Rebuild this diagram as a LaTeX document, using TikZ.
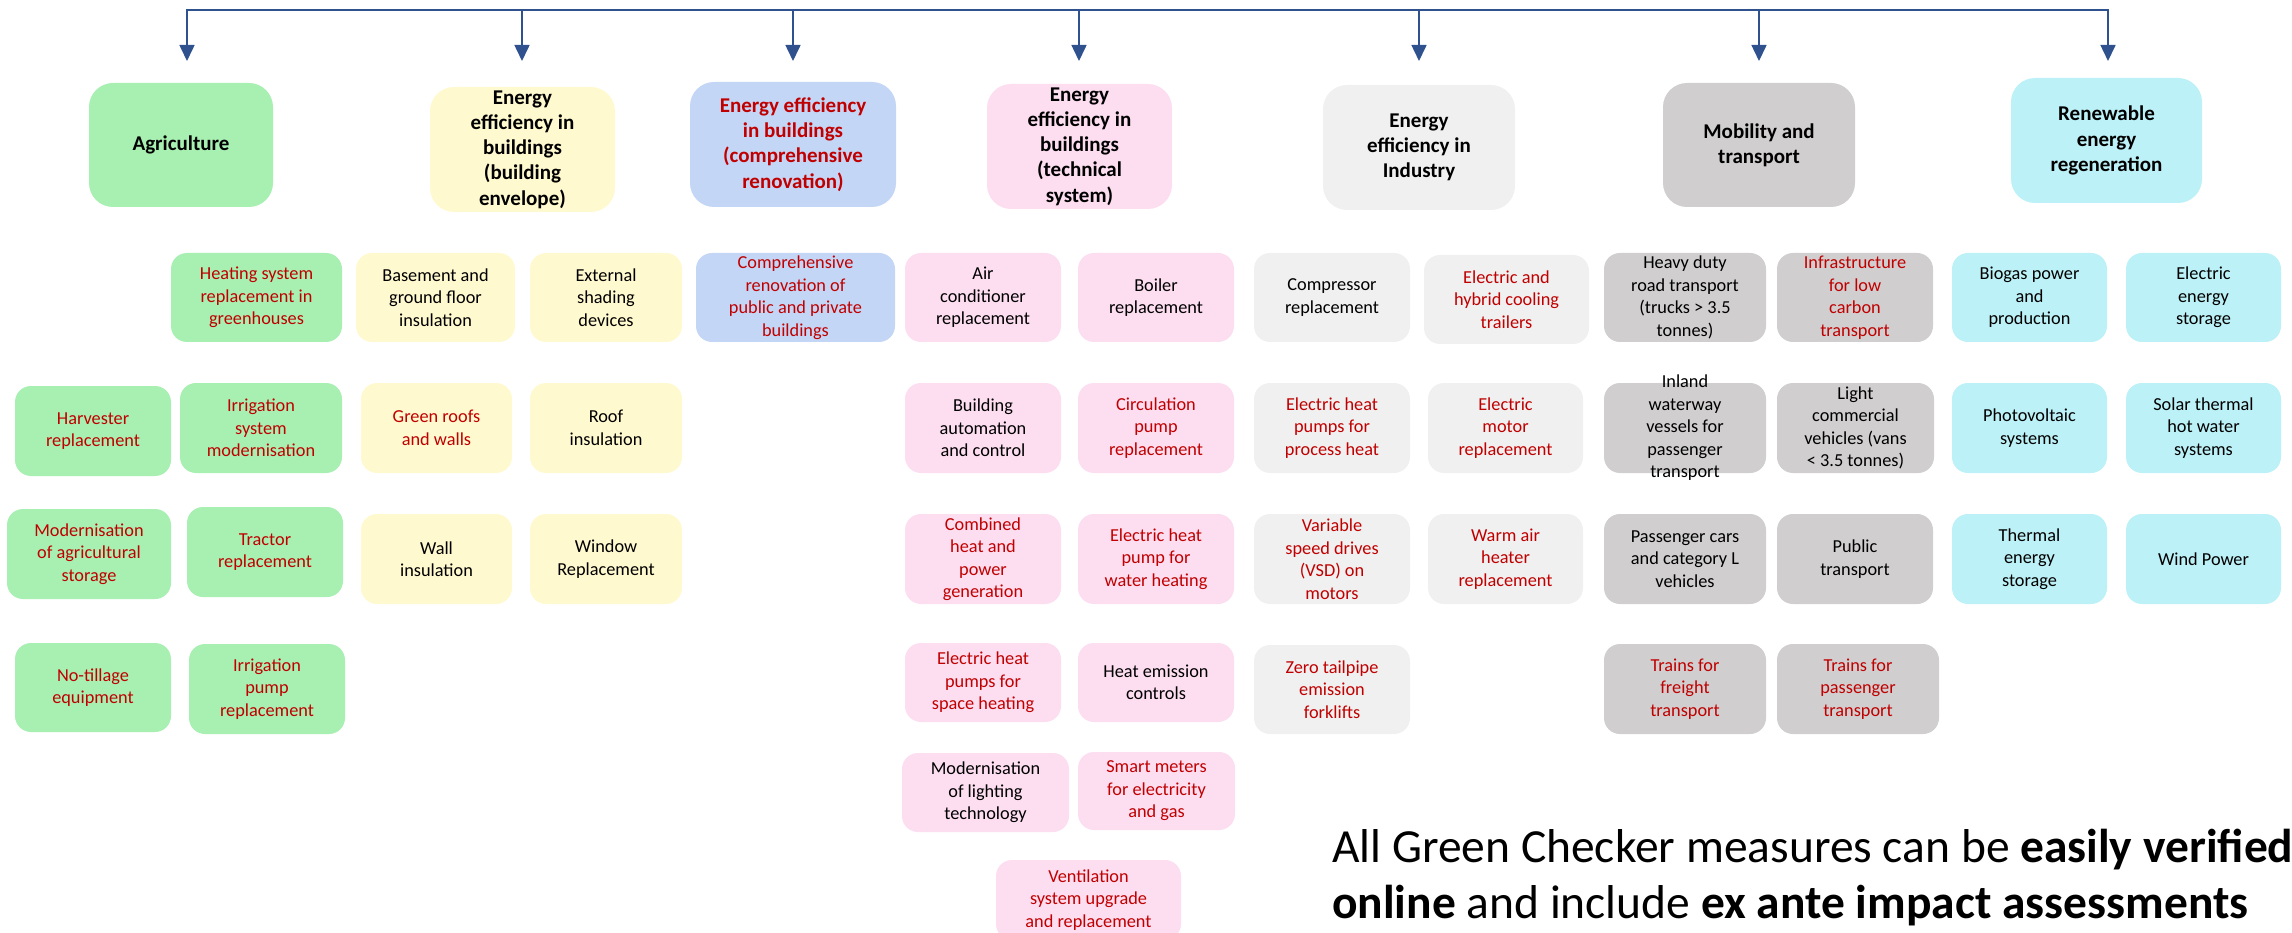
\documentclass[tikz,border=0pt]{standalone}
\usepackage{fontspec}
\setmainfont{Carlito}
\usetikzlibrary{arrows.meta}
\definecolor{cgreen}{RGB}{168,240,178}
\definecolor{cyellow}{RGB}{255,249,207}
\definecolor{cblueb}{RGB}{196,214,245}
\definecolor{cpink}{RGB}{253,222,241}
\definecolor{clgray}{RGB}{240,240,240}
\definecolor{cgray}{RGB}{208,206,206}
\definecolor{ccyan}{RGB}{188,241,247}
\definecolor{cred}{RGB}{192,0,0}
\definecolor{cline}{RGB}{47,82,143}
\tikzset{
  cell/.style={draw=none, rounded corners=16pt, inner sep=0pt, outer sep=0pt},
  hdr/.style={rounded corners=24pt},
  celltext/.style={inner sep=0pt, align=center, font=\fontsize{18.3}{22.5}\selectfont, text=black},
  hdrtext/.style={font=\fontsize{21}{25.3}\selectfont\bfseries},
  redtext/.style={text=cred},
  fgreen/.style={fill=cgreen},
  fyellow/.style={fill=cyellow},
  fblue/.style={fill=cblueb},
  fpink/.style={fill=cpink},
  flgray/.style={fill=clgray},
  fgray/.style={fill=cgray},
  fcyan/.style={fill=ccyan},
  bus/.style={draw=cline, line width=1.6pt},
  arr/.style={bus, -{Triangle[length=16pt,width=15pt]}},
  notetext/.style={inner sep=0pt, anchor=base west, font=\fontsize{47.5}{58}\selectfont},
}
\newcommand\cellbox[8]{%
  \pgfmathsetmacro\cbw{#4-#2}%
  \pgfmathsetmacro\cbh{#5-#3}%
  \node[cell,#6,minimum width=\cbw pt,minimum height=\cbh pt] (#1) at ({(#2+#4)/2},{(#3+#5)/2}) {};
  \node[celltext,#7] (#1-t) at (#1.center) {#8};
}
\begin{document}
\begin{tikzpicture}[x=1pt,y=-1pt]
\useasboundingbox (0,0) rectangle (2292,933);

% headers
\cellbox{agri}{89}{83}{273}{207}{fgreen,hdr}{hdrtext}{Agriculture}
\cellbox{env}{430}{87}{615}{212}{fyellow,hdr}{hdrtext}{Energy\\efficiency in\\buildings\\(building\\envelope)}
\cellbox{compr}{690}{82}{896}{207}{fblue,hdr}{hdrtext,redtext}{Energy efficiency\\in buildings\\(comprehensive\\renovation)}
\cellbox{tech}{987}{84}{1172}{209}{fpink,hdr}{hdrtext}{Energy\\efficiency in\\buildings\\(technical\\system)}
\cellbox{ind}{1323}{85}{1515}{210}{flgray,hdr}{hdrtext}{Energy\\efficiency in\\Industry}
\cellbox{mob}{1663}{83}{1855}{207}{fgray,hdr}{hdrtext}{Mobility and\\transport}
\cellbox{ren}{2011}{78}{2202}{203}{fcyan,hdr}{hdrtext}{Renewable\\energy\\regeneration}

% bus and arrows
\coordinate (bus1) at (187,10);
\coordinate (bus2) at (522,10);
\coordinate (bus3) at (793,10);
\coordinate (bus4) at (1079,10);
\coordinate (bus5) at (1419,10);
\coordinate (bus6) at (1759,10);
\coordinate (bus7) at (2108,10);
\coordinate (tip1) at (187,61);
\coordinate (tip2) at (522,61);
\coordinate (tip3) at (793,61);
\coordinate (tip4) at (1079,61);
\coordinate (tip5) at (1419,61);
\coordinate (tip6) at (1759,61);
\coordinate (tip7) at (2108,61);
\draw[bus, line cap=rect] (bus1) -- (bus7);
\foreach \i in {1,...,7} { \draw[arr] (bus\i) -- (tip\i); }

% row 1
\cellbox{heat}{171}{253}{342}{342}{fgreen}{redtext}{Heating system\\replacement in\\greenhouses}
\cellbox{basement}{356}{253}{515}{342}{fyellow}{}{Basement and\\ground floor\\insulation}
\cellbox{shading}{530}{253}{682}{342}{fyellow}{}{External\\shading\\devices}
\cellbox{comp}{696}{253}{895}{342}{fblue}{redtext}{Comprehensive\\renovation of\\public and private\\buildings}
\cellbox{aircon}{905}{253}{1061}{342}{fpink}{}{Air\\conditioner\\replacement}
\cellbox{boiler}{1078}{253}{1234}{342}{fpink}{}{Boiler\\replacement}
\cellbox{compressor}{1254}{253}{1410}{342}{flgray}{}{Compressor\\replacement}
\cellbox{cooling}{1424}{255}{1589}{344}{flgray}{redtext}{Electric and\\hybrid cooling\\trailers}
\cellbox{heavy}{1604}{253}{1766}{342}{fgray}{}{Heavy duty\\road transport\\(trucks > 3.5\\tonnes)}
\cellbox{infra}{1777}{253}{1933}{342}{fgray}{redtext}{Infrastructure\\for low\\carbon\\transport}
\cellbox{biogas}{1952}{253}{2107}{342}{fcyan}{}{Biogas power\\and\\production}
\cellbox{estorage}{2126}{253}{2281}{342}{fcyan}{}{Electric\\energy\\storage}

% row 2
\cellbox{harvester}{15}{386}{171}{476}{fgreen}{redtext}{Harvester\\replacement}
\cellbox{irrig}{180}{383}{342}{473}{fgreen}{redtext}{Irrigation\\system\\modernisation}
\cellbox{greenroof}{361}{383}{512}{473}{fyellow}{redtext}{Green roofs\\and walls}
\cellbox{roof}{530}{383}{682}{473}{fyellow}{}{Roof\\insulation}
\cellbox{bac}{905}{383}{1061}{473}{fpink}{}{Building\\automation\\and control}
\cellbox{circ}{1078}{383}{1234}{473}{fpink}{redtext}{Circulation\\pump\\replacement}
\cellbox{ehpproc}{1254}{383}{1410}{473}{flgray}{redtext}{Electric heat\\pumps for\\process heat}
\cellbox{motor}{1428}{383}{1583}{473}{flgray}{redtext}{Electric\\motor\\replacement}
\cellbox{inland}{1604}{383}{1766}{473}{fgray}{}{Inland\\waterway\\vessels for\\passenger\\transport}
\cellbox{lcv}{1777}{383}{1934}{473}{fgray}{}{Light\\commercial\\vehicles (vans\\< 3.5 tonnes)}
\cellbox{pv}{1952}{383}{2107}{473}{fcyan}{}{Photovoltaic\\systems}
\cellbox{solar}{2126}{383}{2281}{473}{fcyan}{}{Solar thermal\\hot water\\systems}

% row 3
\cellbox{agstorage}{7}{509}{171}{599}{fgreen}{redtext}{Modernisation\\of agricultural\\storage}
\cellbox{tractor}{187}{507}{343}{597}{fgreen}{redtext}{Tractor\\replacement}
\cellbox{wall}{361}{514}{512}{604}{fyellow}{}{Wall\\insulation}
\cellbox{window}{530}{514}{682}{604}{fyellow}{}{Window\\Replacement}
\cellbox{chp}{905}{514}{1061}{604}{fpink}{redtext}{Combined\\heat and\\power\\generation}
\cellbox{ehpwater}{1078}{514}{1234}{604}{fpink}{redtext}{Electric heat\\pump for\\water heating}
\cellbox{vsd}{1254}{514}{1410}{604}{flgray}{redtext}{Variable\\speed drives\\(VSD) on\\motors}
\cellbox{warm}{1428}{514}{1583}{604}{flgray}{redtext}{Warm air\\heater\\replacement}
\cellbox{cars}{1604}{514}{1766}{604}{fgray}{}{Passenger cars\\and category L\\vehicles}
\cellbox{public}{1777}{514}{1933}{604}{fgray}{}{Public\\transport}
\cellbox{tes}{1952}{514}{2107}{604}{fcyan}{}{Thermal\\energy\\storage}
\cellbox{wind}{2126}{514}{2281}{604}{fcyan}{}{Wind Power}

% row 4
\cellbox{notill}{15}{643}{171}{732}{fgreen}{redtext}{No-tillage\\equipment}
\cellbox{irrpump}{189}{644}{345}{734}{fgreen}{redtext}{Irrigation\\pump\\replacement}
\cellbox{ehpspace}{905}{643}{1061}{722}{fpink}{redtext}{Electric heat\\pumps for\\space heating}
\cellbox{emission}{1078}{643}{1234}{722}{fpink}{}{Heat emission\\controls}
\cellbox{forklift}{1254}{645}{1410}{734}{flgray}{redtext}{Zero tailpipe\\emission\\forklifts}
\cellbox{trfreight}{1604}{644}{1766}{734}{fgray}{redtext}{Trains for\\freight\\transport}
\cellbox{trpass}{1777}{644}{1939}{734}{fgray}{redtext}{Trains for\\passenger\\transport}

% rows 5-6
\cellbox{lighting}{902}{753}{1069}{832}{fpink}{}{Modernisation\\of lighting\\technology}
\cellbox{smart}{1078}{752}{1235}{830}{fpink}{redtext}{Smart meters\\for electricity\\and gas}
\cellbox{vent}{996}{860}{1181}{940}{fpink}{redtext}{Ventilation\\system upgrade\\and replacement}

% note
\node[notetext] (note1) at (1332,862) {All Green Checker measures can be \textbf{easily verified}};
\node[notetext] (note2) at (1332,918) {\textbf{online} and include \textbf{ex ante impact assessments}};
\end{tikzpicture}
\end{document}
